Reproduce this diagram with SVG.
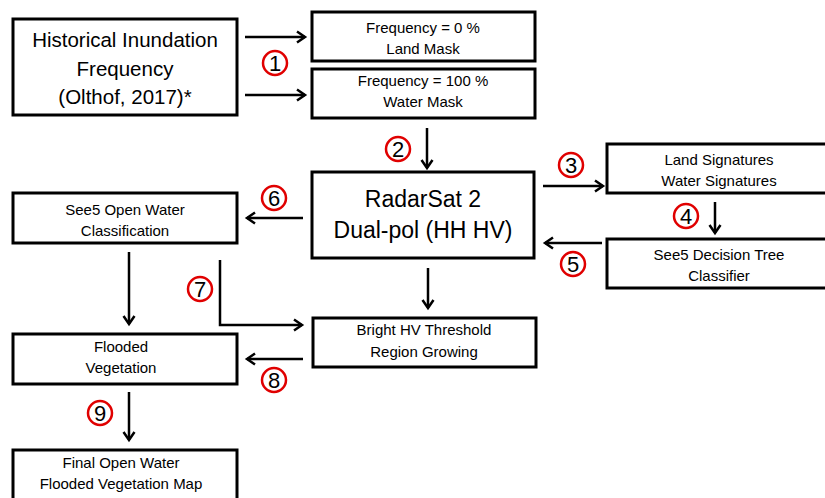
<svg xmlns="http://www.w3.org/2000/svg" width="825" height="498" viewBox="0 0 825 498">
<style>
.box{fill:#fff;stroke:#000;stroke-width:3}
text{font-family:"Liberation Sans",Arial,sans-serif;fill:#000;text-anchor:middle}
.big{font-size:20.5px}
.rad{font-size:23px}
.sm{font-size:15px}
.con line,.con polyline{stroke:#000;stroke-width:2.5;fill:none;marker-end:url(#ah)}
.num circle{fill:#fff;stroke:#e00000;stroke-width:2.5}
.num text{font-size:22px}
</style>
<defs>
<marker id="ah" markerUnits="userSpaceOnUse" markerWidth="14" markerHeight="14" refX="10" refY="7" orient="auto">
<path d="M2,1.5 L10,7 L2,12.5" fill="none" stroke="#000" stroke-width="2.5"/>
</marker>
</defs>
<rect width="825" height="498" fill="#fff"/>
<g id="hist"><rect class="box" x="13" y="19" width="224" height="96"/>
<text class="big" x="125" y="47">Historical Inundation</text>
<text class="big" x="125" y="76">Frequency</text>
<text class="big" x="125" y="104">(Olthof, 2017)*</text></g>
<g id="landmask"><rect class="box" x="312" y="12" width="223" height="49"/>
<text class="sm" x="423" y="33">Frequency = 0 %</text>
<text class="sm" x="423" y="54">Land Mask</text></g>
<g id="watermask"><rect class="box" x="312" y="69" width="223" height="49"/>
<text class="sm" x="423" y="86">Frequency = 100 %</text>
<text class="sm" x="423" y="107">Water Mask</text></g>
<g id="radarsat"><rect class="box" x="312" y="172" width="222" height="86"/>
<text class="rad" x="423" y="207">RadarSat 2</text>
<text class="rad" x="423" y="238">Dual-pol (HH HV)</text></g>
<g id="signatures"><rect class="box" x="607" y="144" width="225" height="49"/>
<text class="sm" x="719" y="165">Land Signatures</text>
<text class="sm" x="719" y="186">Water Signatures</text></g>
<g id="see5tree"><rect class="box" x="607" y="239" width="225" height="49"/>
<text class="sm" x="719" y="260">See5 Decision Tree</text>
<text class="sm" x="719" y="281">Classifier</text></g>
<g id="see5open"><rect class="box" x="13" y="193" width="224" height="50"/>
<text class="sm" x="125" y="215">See5 Open Water</text>
<text class="sm" x="125" y="236">Classification</text></g>
<g id="bright"><rect class="box" x="313" y="318" width="223" height="49"/>
<text class="sm" x="424" y="335">Bright HV Threshold</text>
<text class="sm" x="424" y="357">Region Growing</text></g>
<g id="flooded"><rect class="box" x="13" y="334" width="224" height="50"/>
<text class="sm" x="121" y="352">Flooded</text>
<text class="sm" x="121" y="373">Vegetation</text></g>
<g id="final"><rect class="box" x="13" y="450" width="224" height="60"/>
<text class="sm" x="121" y="468">Final Open Water</text>
<text class="sm" x="121" y="489">Flooded Vegetation Map</text></g>
<g class="con" id="connectors">
<line x1="245" y1="37" x2="305" y2="37"/>
<line x1="245" y1="95" x2="305" y2="95"/>
<line x1="427" y1="128" x2="427" y2="168"/>
<line x1="543" y1="186" x2="603" y2="186"/>
<line x1="715" y1="202" x2="715" y2="233"/>
<line x1="602" y1="243" x2="545" y2="243"/>
<line x1="303" y1="218" x2="247" y2="218"/>
<line x1="129" y1="252" x2="129" y2="324"/>
<polyline points="220,260 220,325 302,325"/>
<line x1="428" y1="268" x2="428" y2="308"/>
<line x1="303" y1="359" x2="247" y2="359"/>
<line x1="129" y1="392" x2="129" y2="440"/>
</g>
<g class="num" id="labels">
<g><circle cx="275" cy="63" r="12"/><text x="275" y="71">1</text></g>
<g><circle cx="398" cy="149" r="12"/><text x="398" y="157">2</text></g>
<g><circle cx="571" cy="165" r="12"/><text x="571" y="173">3</text></g>
<g><circle cx="686" cy="216" r="12"/><text x="686" y="224">4</text></g>
<g><circle cx="573" cy="264" r="12"/><text x="573" y="272">5</text></g>
<g><circle cx="274" cy="198" r="12"/><text x="274" y="206">6</text></g>
<g><circle cx="200" cy="289" r="12"/><text x="200" y="297">7</text></g>
<g><circle cx="274" cy="380" r="12"/><text x="274" y="388">8</text></g>
<g><circle cx="100" cy="413" r="12"/><text x="100" y="421">9</text></g>
</g>
</svg>
